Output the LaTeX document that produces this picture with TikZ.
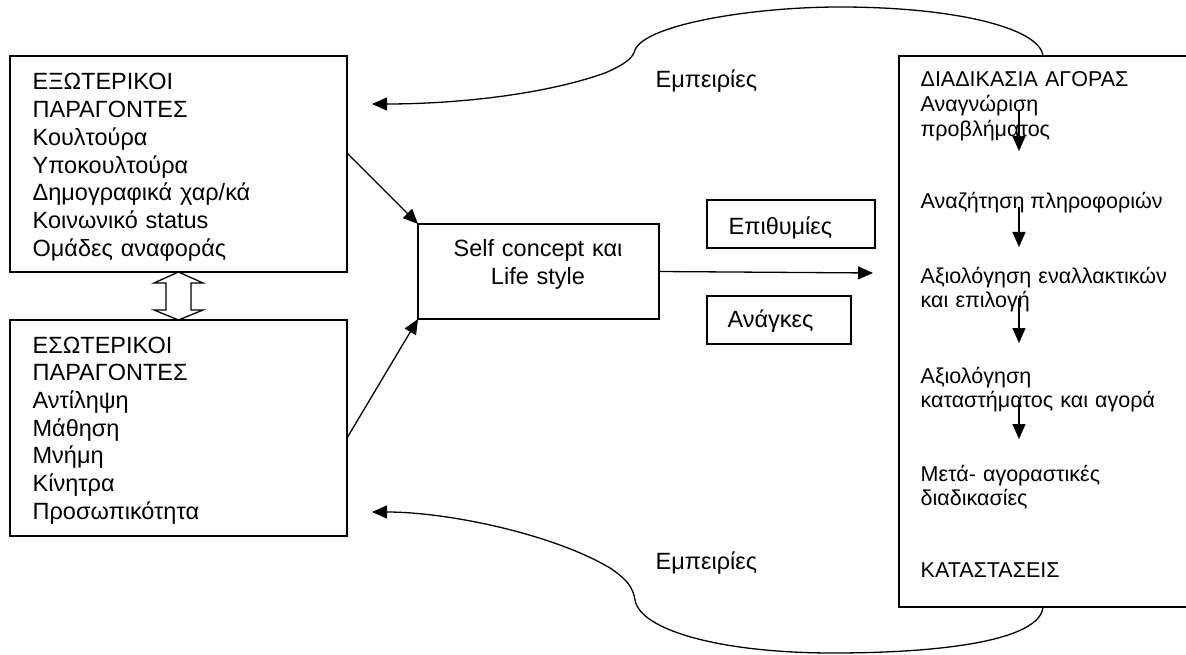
\documentclass[tikz,border=0pt]{standalone}
\usepackage{fontspec}
\setmainfont{Liberation Sans}
\usetikzlibrary{arrows.meta,calc}

\begin{document}
\begin{tikzpicture}[x=1pt,y=-1pt,
  line width=1.3pt,
  box/.style={draw, line width=1.4pt, rectangle, inner sep=0pt, outer sep=0pt, anchor=north west},
  arr/.style={-{Triangle[length=15pt,width=13pt]}, line width=1.3pt},
  big/.style={font=\fontsize{23.5}{27.7}\selectfont},
  small/.style={font=\fontsize{21.5}{24.6}\selectfont},
  txt/.style={inner sep=0pt, anchor=base west, align=left},
]
\useasboundingbox (0,0) rectangle (1186,655);
\clip (0,0) rectangle (1186,655);

% boxes
\node[box, minimum width=337pt, minimum height=216pt] (ext)   at (10,56)  {};
\node[box, minimum width=337pt, minimum height=216pt] (int)   at (10,320) {};
\node[box, minimum width=241pt, minimum height=95pt]  (self)  at (418,224) {};
\node[box, minimum width=168pt, minimum height=48pt]  (wants) at (707,200) {};
\node[box, minimum width=144pt, minimum height=48pt]  (needs) at (707,296) {};
\node[box, minimum width=310pt, minimum height=551pt] (buy)   at (899,56) {};

% texts of the left boxes
\node[txt, big, text width=310pt] (extT) at (32,90)
  {ΕΞΩΤΕΡΙΚΟΙ\\ΠΑΡΑΓΟΝΤΕΣ\\Κουλτούρα\\Υποκουλτούρα\\Δημογραφικά χαρ/κά\\Κοινωνικό status\\Ομάδες αναφοράς};
\node[txt, big, text width=310pt] (intT) at (32,353)
  {ΕΣΩΤΕΡΙΚΟΙ\\ΠΑΡΑΓΟΝΤΕΣ\\Αντίληψη\\Μάθηση\\Μνήμη\\Κίνητρα\\Προσωπικότητα};

% centre box
\node[big, inner sep=0pt, anchor=base, align=center, text width=230pt] (selfT) at (538,257)
  {Self concept και\\Life style};
\node[txt, big] (wantsT) at (728,235) {Επιθυμίες};
\node[txt, big] (needsT) at (727,327) {Ανάγκες};

% purchase process
\node[txt, small, text width=260pt] (p1) at (920,87) {ΔΙΑΔΙΚΑΣΙΑ ΑΓΟΡΑΣ\\Αναγνώριση\\προβλήματος};
\node[txt, small] (p2) at (920,209) {Αναζήτηση πληροφοριών};
\node[txt, small, text width=260pt] (p3) at (920,283) {Αξιολόγηση εναλλακτικών\\και επιλογή};
\node[txt, small, text width=260pt] (p4) at (920,383) {Αξιολόγηση\\καταστήματος και αγορά};
\node[txt, small, text width=260pt] (p5) at (920,481) {Μετά- αγοραστικές\\διαδικασίες};
\node[txt, small] (p6) at (920,577) {ΚΑΤΑΣΤΑΣΕΙΣ};

% experience labels
\node[txt, big] (expT) at (655,88) {Εμπειρίες};
\node[txt, big] (expB) at (655,569) {Εμπειρίες};

% arrow ends
\coordinate (toBuy) at (873,273);
\coordinate (expTop) at (372,104);
\coordinate (expBot) at (372,512);
\coordinate (s1) at (1019,110); \coordinate (e1) at (1019,151);
\coordinate (s2) at (1019,207); \coordinate (e2) at (1019,247);
\coordinate (s3) at (1019,298); \coordinate (e3) at (1019,343);
\coordinate (s4) at (1019,400); \coordinate (e4) at (1019,439);

% connectors
\draw[arr] ([yshift=11pt]ext.east) -- (self.north west);
\draw[arr] ([yshift=-10pt]int.east) -- (self.south west);
\draw[arr] (self.east) -- (toBuy);
\foreach \i in {1,...,4} \draw[arr] (s\i) -- (e\i);

% hollow double arrow between the factor boxes
\draw[line width=1.3pt, fill=white] (ext.south) -- ++(24.5,11) -- ++(-12,0) -- ++(0,27) -- ++(12,0)
  -- (int.north) -- ++(-24.5,-10) -- ++(12,0) -- ++(0,-27) -- ++(-12,0) -- cycle;

% feedback curves
\draw[arr] ([xshift=144pt]buy.north west) .. controls (1040,28) and (955,7) .. (840,7)
  .. controls (750,7) and (645,25) .. (635,50)
  .. controls (633,57) and (628,63) .. (605,73)
  .. controls (540,96) and (450,104) .. (expTop);
\draw[arr] ([xshift=144pt]buy.south west) .. controls (1040,640) and (945,653) .. (833,653)
  .. controls (720,653) and (640,630) .. (635,600)
  .. controls (633,588) and (628,580) .. (610,568)
  .. controls (555,535) and (450,512) .. (expBot);
\end{tikzpicture}
\end{document}
